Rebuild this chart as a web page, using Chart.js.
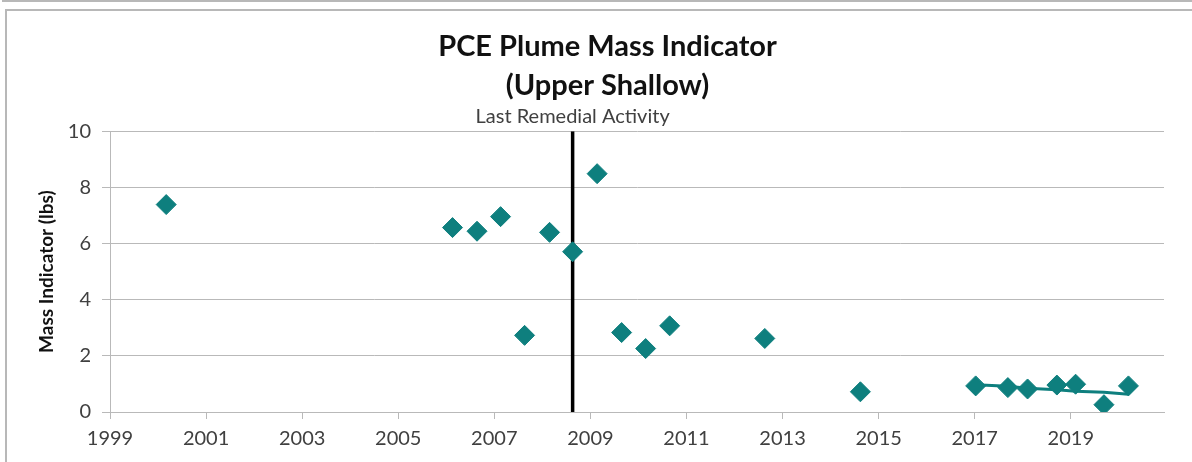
<!DOCTYPE html>
<html>
<head>
<meta charset="utf-8">
<script src="https://cdn.jsdelivr.net/npm/chart.js@4.4.1/dist/chart.umd.min.js"></script>
<style>
    html, body { margin: 0; padding: 0; background: #fff; overflow: hidden; width: 1192px; height: 462px; }
    #topStrip { position: absolute; left: 2px; top: -20px; width: 1300px; height: 20px; border: 1px solid #b8b8b8; border-width: 0 0 2px 2px; }
    #frame { position: absolute; left: 5px; top: 9px; width: 1300px; height: 520px; border: 1px solid #b8b8b8; border-width: 2px 0 0 2px; }
    #wrap { position: absolute; left: 0; top: 0; width: 1201px; height: 460px; }
</style>
</head>
<body>
<div id="topStrip"></div>
<div id="frame">
    <div id="wrap"><canvas id="massChart"></canvas></div>
</div>
<script>
// sample dates (decimal years) and PCE mass indicator (lbs)
const sampleYears = [2000.17, 2006.13, 2006.64, 2007.13, 2007.63, 2008.15, 2008.63, 2009.14,
                     2009.65, 2010.15, 2010.65, 2012.63, 2014.62, 2017.02, 2017.69, 2018.10,
                     2018.71, 2019.10, 2019.69, 2020.20];
const massValues = [7.39, 6.57, 6.44, 6.96, 2.73, 6.40, 5.71, 8.49,
                    2.83, 2.26, 3.07, 2.62, 0.72, 0.93, 0.87, 0.82,
                    0.96, 0.99, 0.26, 0.93];

// trend line through the recent samples
const trendYears = [2017.02, 2017.69, 2018.10, 2018.71, 2019.10, 2019.69, 2020.20];
const trendValues = [0.97, 0.92, 0.85, 0.79, 0.74, 0.70, 0.63];

// last remedial activity marker
const remedialYear = 2008.63;
const remedialRange = [0, 10];

const xTicks = [1999, 2001, 2003, 2005, 2007, 2009, 2011, 2013, 2015, 2017, 2019];
const xMin = 1999;
const xMax = 2020.94;

const teal = "#0e7f7e";
const gridGray = "#b9b9b9";
const textGray = "#404040";

// 📌 label on top of the remedial line
const remedialLabel = {
    id: "remedialLabel",
    afterDraw(chart) {
        const { ctx, chartArea, scales } = chart;
        const x = scales.x.getPixelForValue(remedialYear);
        ctx.save();
        ctx.font = "20px Lato";
        ctx.fillStyle = textGray;
        ctx.textAlign = "center";
        ctx.textBaseline = "middle";
        ctx.fillText("Last Remedial Activity", x, chartArea.top - 15);
        ctx.restore();
    }
};

const ctx = document.getElementById("massChart").getContext("2d");

new Chart(ctx, {
    type: "scatter",
    data: {
        datasets: [
            {
                label: "PCE Mass",
                data: sampleYears.map((x, i) => ({ x: x, y: massValues[i] })),
                pointStyle: "rectRot",
                pointRadius: 10,
                pointHoverRadius: 10,
                backgroundColor: teal,
                borderColor: teal,
                borderWidth: 1,
                order: 0
            },
            {
                label: "Trend",
                type: "line",
                data: trendYears.map((x, i) => ({ x: x, y: trendValues[i] })),
                borderColor: teal,
                borderWidth: 3,
                pointRadius: 0,
                fill: false,
                tension: 0,
                order: 1
            },
            {
                label: "Last Remedial Activity",
                type: "line",
                data: remedialRange.map(v => ({ x: remedialYear, y: v })),
                borderColor: "#000",
                borderWidth: 3.5,
                pointRadius: 0,
                fill: false,
                order: 2
            }
        ]
    },
    options: {
        responsive: true,
        maintainAspectRatio: false,
        animation: false,
        layout: {
            padding: { left: 0, right: 0, top: 0, bottom: 0 }
        },
        plugins: {
            legend: { display: false },
            tooltip: { enabled: false },
            title: {
                display: true,
                text: ["PCE Plume Mass Indicator", "(Upper Shallow)"],
                color: "#111",
                font: { family: "Lato", size: 29, weight: "bold", lineHeight: 1.35 },
                padding: { top: 16, bottom: 26 }
            }
        },
        scales: {
            x: {
                type: "linear",
                min: xMin,
                max: xMax,
                afterBuildTicks: axis => { axis.ticks = xTicks.map(v => ({ value: v })); },
                afterFit: axis => { axis.height = 59; },
                ticks: {
                    callback: v => String(v),
                    color: textGray,
                    font: { family: "Lato", size: 20 },
                    padding: 8,
                    maxRotation: 0,
                    autoSkip: false
                },
                grid: { drawOnChartArea: false, drawTicks: true, tickLength: 7, color: gridGray },
                border: { color: gridGray, width: 1 }
            },
            y: {
                min: 0,
                max: 10,
                afterFit: axis => { axis.width = 103; },
                ticks: {
                    stepSize: 2,
                    color: textGray,
                    font: { family: "Lato", size: 20 },
                    padding: 11
                },
                title: {
                    display: true,
                    text: "Mass Indicator (lbs)",
                    color: "#111",
                    font: { family: "Lato", size: 19, weight: "bold" },
                    padding: { top: 28, bottom: 0 }
                },
                grid: { color: gridGray, tickLength: 8, lineWidth: 1 },
                border: { color: gridGray, width: 1 }
            },
            // empty space on the right of the plot, keeps the title centred on the whole frame
            yRight: {
                position: "right",
                afterFit: axis => { axis.width = 44; },
                ticks: { display: false },
                grid: { display: false },
                border: { display: false }
            }
        }
    },
    plugins: [remedialLabel]
});
</script>
</body>
</html>
